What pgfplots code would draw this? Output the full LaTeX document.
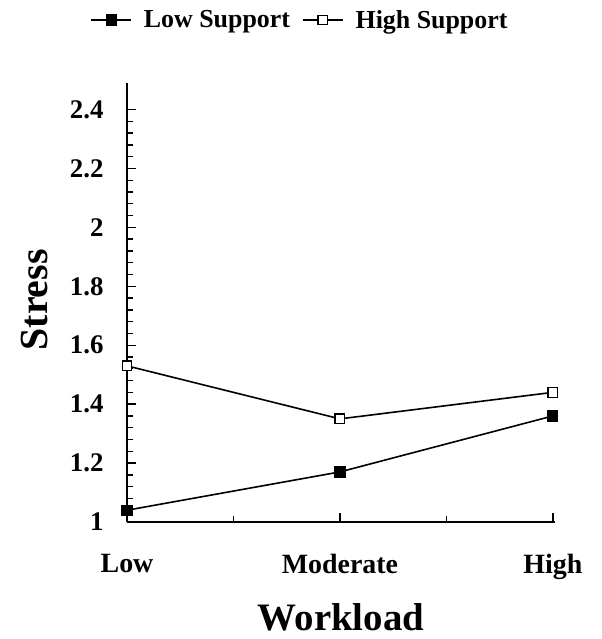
\documentclass[border=0pt]{standalone}
\usepackage{fontspec}
\setmainfont{Liberation Serif}
\usepackage{pgfplots}
\pgfplotsset{compat=1.18}
\begin{document}
\begin{tikzpicture}[x=1bp,y=1bp]
\useasboundingbox (-127bp,-117bp) rectangle (475bp,522bp);
\begin{axis}[
  at={(0,0)}, anchor=south west,
  scale only axis,
  width=428bp, height=439bp,
  xmin=0, xmax=2.01,
  ymin=1, ymax=2.49,
  axis x line=bottom, axis y line=left,
  axis line style={-, line width=1.6bp},
  tick align=inside,
  xtick={0,1,2}, xticklabels={Low,Moderate,High},
  minor xtick={0.5,1.5},
  ytick={1,1.2,1.4,1.6,1.8,2,2.2,2.4},
  yticklabels={1,1.2,1.4,1.6,1.8,2,2.2,2.4},
  minor y tick num=4,
  major tick length=9bp, minor tick length=6bp,
  every tick/.style={black, line width=1.4bp},
  /pgf/number format/assume math mode=true,
  xticklabel style={font=\fontsize{28}{32}\selectfont\bfseries, yshift=-29bp},
  yticklabel style={font=\fontsize{27}{31}\selectfont\bfseries, xshift=-20bp},
  xlabel={Workload},
  ylabel={Stress},
  xlabel style={font=\fontsize{39}{45}\selectfont\bfseries, at={(axis description cs:0.5,-0.218)}, anchor=center, inner sep=0pt},
  ylabel style={font=\fontsize{40}{46}\selectfont\bfseries, at={(axis description cs:-0.215,0.506)}, anchor=center},
  legend columns=2,
  legend style={draw=none, fill=none, at={(axis description cs:0.404,1.1435)}, anchor=center,
    font=\fontsize{26}{30}\selectfont\bfseries, column sep=10bp},
  legend image code/.code={\draw[#1, line width=1.6bp] (0bp,0bp) -- (40bp,0bp); \draw[#1, only marks] plot coordinates {(20bp,0bp)};},
  clip=false,
]
\addplot[black, line width=1.6bp, mark=square*, mark size=4.8bp, mark options={solid, fill=black}]
  coordinates {(0,1.04) (1,1.17) (2,1.36)};
\addlegendentry{Low Support}
\addplot[black, line width=1.6bp, mark=square*, mark size=4.8bp, mark options={solid, fill=white, line width=1.3bp}]
  coordinates {(0,1.53) (1,1.35) (2,1.44)};
\addlegendentry{High Support}
\end{axis}
\end{tikzpicture}
\end{document}
